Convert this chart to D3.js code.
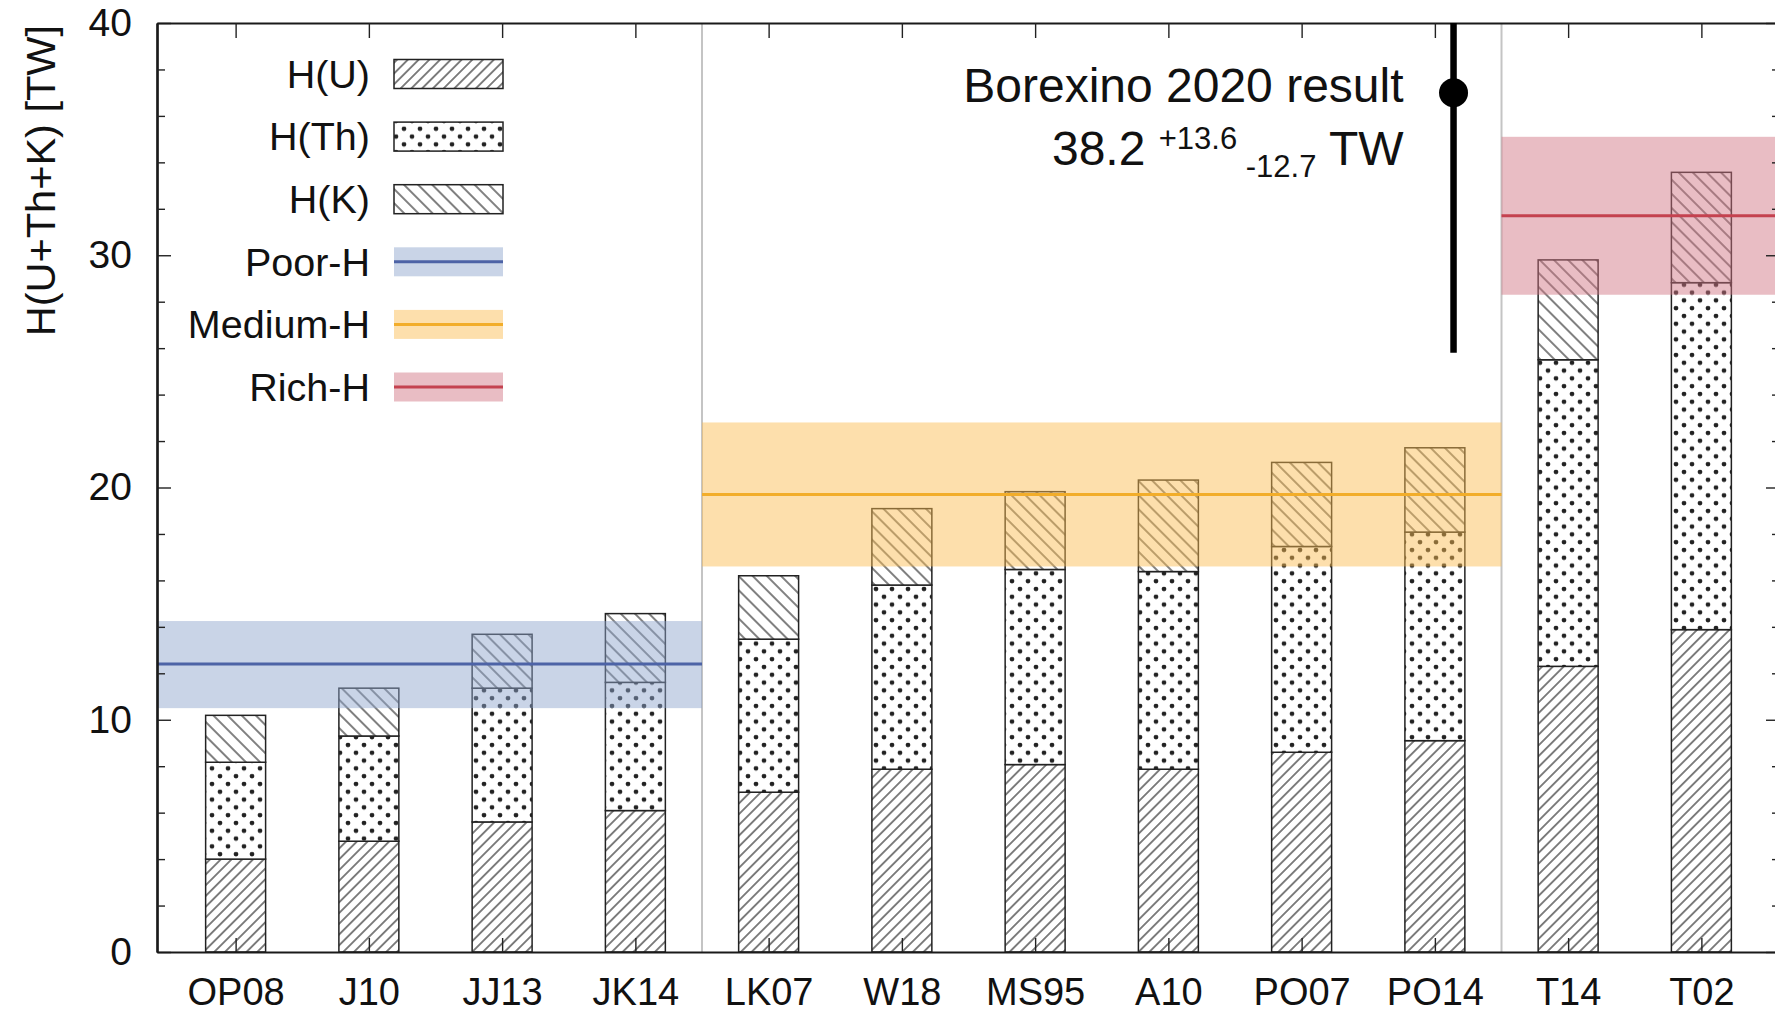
<!DOCTYPE html>
<html><head><meta charset="utf-8">
<script src="https://cdn.jsdelivr.net/npm/d3@7"></script>
<style>
body{margin:0;background:#fff;overflow:hidden}
svg{display:block}
text{font-family:"Liberation Sans",Arial,Helvetica,sans-serif;fill:#111}
</style>
</head><body>
<svg id="chart" width="1775" height="1013"></svg>
<script>
// ---------------- data ----------------
const categories = ["OP08","J10","JJ13","JK14","LK07","W18","MS95","A10","PO07","PO14","T14","T02"];
const hU  = [4.00, 4.77, 5.60, 6.09, 6.88, 7.87, 8.07, 7.87, 8.60, 9.10, 12.30, 13.88];
const hTh = [4.17, 4.53, 5.76, 5.52, 6.59, 7.93, 8.40, 8.51, 8.86, 8.98, 13.20, 14.94];
const hK  = [2.02, 2.06, 2.32, 2.96, 2.73, 3.29, 3.35, 3.94, 3.62, 3.63, 4.30, 4.75];
const seriesNames = ["H(U)","H(Th)","H(K)"];
const yTicks = [0, 10, 20, 30, 40];
const yMinorTicks = [2,4,6,8,12,14,16,18,22,24,26,28,32,34,36,38];
const groupNames = ["Poor-H","Medium-H","Rich-H"];
const groupFirst = [0, 4, 10];
const groupLast  = [3, 9, 11];
const groupMean  = [12.4, 19.7, 31.7];
const groupLow   = [10.5, 16.6, 28.3];
const groupHigh  = [14.25, 22.8, 35.1];
const borexinoPos = 9.14;      // position in category units
const borexinoValue = 37.0;
const borexinoLow = 25.8;
const borexinoHigh = 50.6;
const borexinoLine1 = "Borexino 2020 result";
const borexinoMain = "38.2", borexinoPlus = "+13.6", borexinoMinus = "-12.7", borexinoUnit = "TW";
const yTitle = "H(U+Th+K) [TW]";

// ---------------- styles ----------------
const lineColors = ["#4d63a6", "#f2ad2a", "#c4424f"];
const bandColors = ["#8fa5cd", "#fbbd52", "#d27584"];
const bandOpacity = 0.48;

// ---------------- layout ----------------
const L = 157, R = 1780, T = 23, B = 952;
const pad = 0.59;
const svg = d3.select("#chart");
const x = d3.scaleLinear().domain([-pad, categories.length - 1 + pad]).range([L, R]);
const y = d3.scaleLinear().domain([0, 40]).range([B, T]);
const barW = 0.45;

const defs = svg.append("defs");
defs.append("clipPath").attr("id","plotclip").append("rect")
  .attr("x", L).attr("y", T).attr("width", R - L).attr("height", B - T);

function hatch(id, angle, spacing){
  const p = defs.append("pattern").attr("id", id).attr("patternUnits","userSpaceOnUse")
    .attr("width", spacing).attr("height", 20).attr("patternTransform", `rotate(${angle})`);
  p.append("line").attr("x1", spacing/2).attr("x2", spacing/2).attr("y1", -2).attr("y2", 22)
    .attr("stroke", "#222").attr("stroke-width", 1.15);
}
hatch("patU", 45, 7.6);
hatch("patK", -45, 10);
const pd = defs.append("pattern").attr("id","patTh").attr("patternUnits","userSpaceOnUse")
  .attr("width", 16).attr("height", 15.6);
pd.append("circle").attr("cx", 4).attr("cy", 4).attr("r", 2.4).attr("fill", "#222");
pd.append("circle").attr("cx", 12).attr("cy", 11.8).attr("r", 2.4).attr("fill", "#222");
const patterns = ["url(#patU)", "url(#patTh)", "url(#patK)"];

// ---------------- separators ----------------
const seps = groupLast.slice(0, -1).map(d => d + 0.5);
svg.append("g").selectAll("line").data(seps).join("line")
  .attr("x1", d => x(d)).attr("x2", d => x(d)).attr("y1", T).attr("y2", B)
  .attr("stroke", "#c4c4c4").attr("stroke-width", 2);

// ---------------- stacked bars ----------------
const rows = categories.map((c, i) => ({cat: c, i, U: hU[i], Th: hTh[i], K: hK[i]}));
const stack = d3.stack().keys(["U","Th","K"])(rows);
const gBars = svg.append("g");
stack.forEach((layer, k) => {
  gBars.append("g").selectAll("rect").data(layer).join("rect")
    .attr("x", d => x(d.data.i - barW/2))
    .attr("width", x(barW) - x(0))
    .attr("y", d => y(d[1]))
    .attr("height", d => y(d[0]) - y(d[1]))
    .attr("fill", "#fff");
  gBars.append("g").selectAll("rect").data(layer).join("rect")
    .attr("x", d => x(d.data.i - barW/2))
    .attr("width", x(barW) - x(0))
    .attr("y", d => y(d[1]))
    .attr("height", d => y(d[0]) - y(d[1]))
    .attr("fill", patterns[k])
    .attr("stroke", "#222").attr("stroke-width", 1.5);
});

// ---------------- bands ----------------
const gBand = svg.append("g").attr("clip-path","url(#plotclip)");
groupNames.forEach((g, k) => {
  const x0 = k === 0 ? L : x(groupFirst[k] - 0.5);
  const x1 = k === groupNames.length - 1 ? R : x(groupLast[k] + 0.5);
  gBand.append("rect").attr("x", x0).attr("width", x1 - x0)
    .attr("y", y(groupHigh[k])).attr("height", y(groupLow[k]) - y(groupHigh[k]))
    .attr("fill", bandColors[k]).attr("fill-opacity", bandOpacity);
  gBand.append("line").attr("x1", x0).attr("x2", x1)
    .attr("y1", y(groupMean[k])).attr("y2", y(groupMean[k]))
    .attr("stroke", lineColors[k]).attr("stroke-width", 3);
});

// ---------------- axes ----------------
const idx = categories.map((c, i) => i);
const axL = svg.append("g").attr("transform", `translate(${L},0)`)
  .call(d3.axisLeft(y).tickValues(yTicks).tickSize(-14).tickSizeOuter(0).tickPadding(25));
axL.selectAll("text").attr("font-size", 39).attr("font-family", "Liberation Sans, Arial, sans-serif").attr("fill", "#111");
svg.append("g").attr("transform", `translate(${L},0)`)
  .call(d3.axisLeft(y).tickValues(yMinorTicks).tickSize(-8).tickSizeOuter(0).tickFormat(""));
svg.append("g").attr("transform", `translate(${R},0)`)
  .call(d3.axisRight(y).tickValues(yTicks).tickSize(-14).tickSizeOuter(0).tickFormat(""));
svg.append("g").attr("transform", `translate(${R},0)`)
  .call(d3.axisRight(y).tickValues(yMinorTicks).tickSize(-8).tickSizeOuter(0).tickFormat(""));
svg.append("g").attr("transform", `translate(0,${T})`)
  .call(d3.axisTop(x).tickValues(idx).tickSize(-15).tickSizeOuter(0).tickFormat(""));
const axB = svg.append("g").attr("transform", `translate(0,${B})`)
  .call(d3.axisBottom(x).tickValues(idx).tickSize(-14).tickSizeOuter(0).tickPadding(26)
    .tickFormat(i => categories[i]));
axB.selectAll("text").attr("font-size", 38).attr("font-family", "Liberation Sans, Arial, sans-serif").attr("fill", "#111");
svg.selectAll(".domain").attr("stroke", "#1a1a1a").attr("stroke-width", 2.2);
svg.selectAll(".tick line").attr("stroke", "#222").attr("stroke-width", 1.4);

// ---------------- Borexino ----------------
const gB = svg.append("g").attr("clip-path","url(#plotclip)");
gB.append("line").attr("x1", x(borexinoPos)).attr("x2", x(borexinoPos))
  .attr("y1", y(borexinoHigh)).attr("y2", y(borexinoLow))
  .attr("stroke", "#000").attr("stroke-width", 6.5);
gB.append("circle").attr("cx", x(borexinoPos)).attr("cy", y(borexinoValue)).attr("r", 14.5).attr("fill", "#000");
const txR = x(borexinoPos) - 50;
svg.append("text").attr("x", txR).attr("y", 102).attr("text-anchor", "end")
  .attr("font-size", 48).text(borexinoLine1);
const t2 = svg.append("text").attr("x", txR).attr("y", 165).attr("text-anchor", "end").attr("font-size", 48);
t2.append("tspan").text(borexinoMain + " ");
t2.append("tspan").attr("font-size", 31).attr("dy", -16).text(borexinoPlus + " ");
t2.append("tspan").attr("font-size", 31).attr("dy", 28).text(borexinoMinus);
t2.append("tspan").attr("dy", -12).text(" " + borexinoUnit);

// ---------------- y title ----------------
svg.append("text").attr("transform", `translate(55,${T + 2}) rotate(-90)`)
  .attr("text-anchor", "end").attr("font-size", 41.5).text(yTitle);

// ---------------- legend ----------------
const legendItems = seriesNames.concat(groupNames);
const ly = d3.scalePoint().domain(legendItems).range([74, 387]);
const lg = svg.append("g");
const swX = 394, swW = 109, swH = 29;
legendItems.forEach((name, k) => {
  const cy = ly(name);
  lg.append("text").attr("x", 370).attr("y", cy).attr("dy", "0.35em").attr("text-anchor", "end")
    .attr("font-size", 39.5).text(name);
  if (k < 3) {
    lg.append("rect").attr("x", swX).attr("y", cy - swH/2).attr("width", swW).attr("height", swH).attr("fill", "#fff");
    lg.append("rect").attr("x", swX).attr("y", cy - swH/2).attr("width", swW).attr("height", swH)
      .attr("fill", patterns[k]).attr("stroke", "#222").attr("stroke-width", 1.5);
  } else {
    const g = k - 3;
    lg.append("rect").attr("x", swX).attr("y", cy - swH/2).attr("width", swW).attr("height", swH)
      .attr("fill", bandColors[g]).attr("fill-opacity", bandOpacity);
    lg.append("line").attr("x1", swX).attr("x2", swX + swW).attr("y1", cy).attr("y2", cy)
      .attr("stroke", lineColors[g]).attr("stroke-width", 3);
  }
});
</script>
</body></html>
